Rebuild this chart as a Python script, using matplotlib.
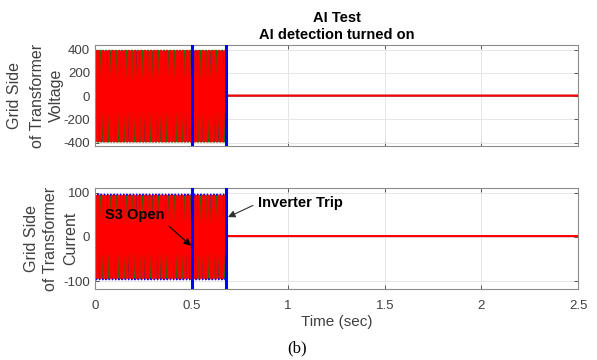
import matplotlib.pyplot as plt
import numpy as np

# values
freq_hz = 60.0
s3_open_time = 0.5
trip_time = 0.68
t_end = 2.5
phase_colors = ["#0000ff", "#008000", "#ff0000"]
phase_shift_deg = [120.0, -120.0, 0.0]
voltage_amp = [385.0, 394.0, 390.0]
current_amp = [97.0, 93.0, 94.0]
voltage_after_trip = 5.0
current_after_trip = 2.0

voltage_ticks = [-400, -200, 0, 200, 400]
current_ticks = [-100, 0, 100]
time_ticks = [0, 0.5, 1, 1.5, 2, 2.5]
time_ticklabels = ["0", "0.5", "1", "1.5", "2", "2.5"]
voltage_label = ["Grid Side", "of Transformer", "Voltage"]
current_label = ["Grid Side", "of Transformer", "Current"]

plt.rcParams["font.family"] = ["Liberation Sans", "DejaVu Sans"]
plt.rcParams["axes.unicode_minus"] = False

t = np.linspace(0, t_end, 40001)
on = t < trip_time


def phase_wave(amp, shift, after):
    w = amp * np.sin(2 * np.pi * freq_hz * t + np.deg2rad(shift))
    return np.where(on, w, after)


fig = plt.figure(figsize=(5.97, 3.60), dpi=100)
ax1 = fig.add_axes([95 / 597, 1 - 146 / 360, 483 / 597, 101 / 360])
ax2 = fig.add_axes([95 / 597, 1 - 289 / 360, 483 / 597, 101 / 360])

gray = "#404040"
for ax, amps, after, ticks, ylim in (
    (ax1, voltage_amp, voltage_after_trip, voltage_ticks, (-428, 440)),
    (ax2, current_amp, current_after_trip, current_ticks, (-118, 111)),
):
    for col, sh, a in zip(phase_colors, phase_shift_deg, amps):
        lw = 1.5 if col == "#ff0000" else 1.0
        ax.plot(t, phase_wave(a, sh, after), color=col, lw=lw)
    for xv in (s3_open_time, trip_time):
        ax.axvline(xv, color="#0000ff", lw=2.2, zorder=5)
    ax.set_xlim(0, t_end)
    ax.set_ylim(*ylim)
    ax.set_yticks(ticks)
    ax.set_xticks(time_ticks)
    ax.grid(True, color="#e6e6e6", lw=0.7)
    ax.set_axisbelow(True)
    ax.tick_params(direction="in", top=True, right=True, colors=gray,
                   labelcolor=gray, labelsize=9.5, length=3, width=0.6)
    ax.tick_params(axis="x", pad=8)
    for s in ax.spines.values():
        s.set_color("#8c8c8c")
        s.set_linewidth(0.8)

ax1.set_xticklabels([])
ax2.set_xticklabels(time_ticklabels)

# y labels: one text per line so each sits in its own column
for ax, lines, xs in ((ax1, voltage_label, (14, 37, 56)),
                      (ax2, current_label, (31, 50, 71))):
    for line, xp in zip(lines, xs):
        ax.text((xp - 95) / 483, 0.5, line, transform=ax.transAxes,
                rotation=90, ha="center", va="center", fontsize=11.5,
                color=gray)

ax2.set_xlabel("Time (sec)", fontsize=11, color=gray, labelpad=2)
ax1.set_title("AI Test\nAI detection turned on", fontsize=10.5,
              fontweight="bold", linespacing=1.3, pad=4)

ax2.annotate("S3 Open", xy=(0.497, -20), xytext=(0.05, 50),
             fontsize=10.5, fontweight="bold", va="center",
             arrowprops=dict(arrowstyle="-|>", color="black", lw=0.8,
                             shrinkA=2, shrinkB=0, relpos=(1.0, 0.0)))
ax2.annotate("Inverter Trip", xy=(0.688, 45), xytext=(0.845, 77),
             fontsize=10.5, fontweight="bold", va="center",
             arrowprops=dict(arrowstyle="-|>", color="#303030", lw=0.8,
                             shrinkA=2, shrinkB=0, relpos=(0.0, 0.5)))

fig.text(297 / 597, 1 - 348 / 360, "(b)", fontsize=12,
         family=["Liberation Serif", "DejaVu Serif"], ha="center",
         va="center")

fig.savefig("out.png", dpi=100)
